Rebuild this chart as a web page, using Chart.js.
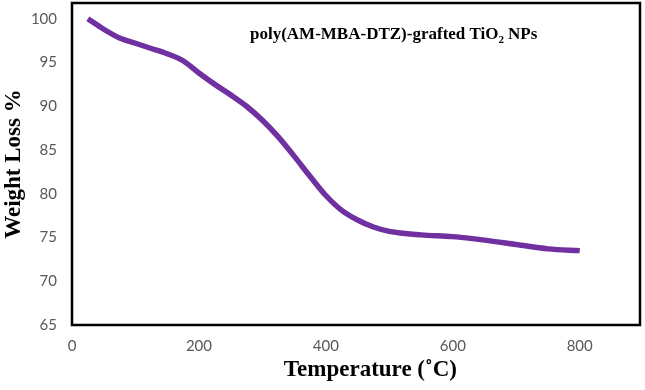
<!DOCTYPE html>
<html>
<head>
<meta charset="utf-8">
<script src="https://cdn.jsdelivr.net/npm/chart.js@4.4.0/dist/chart.umd.min.js"></script>
<style>
  html, body { margin: 0; padding: 0; background: #fff; }
  #wrap { width: 645px; height: 390px; }
</style>
</head>
<body>
<div id="wrap"><canvas id="tga" width="645" height="390"></canvas></div>
<script>
// TGA curve
const temps = [25, 50, 75, 100, 125, 150, 175, 200, 225, 250, 275, 300, 325, 350, 375, 400, 425, 450, 475, 500, 550, 600, 650, 700, 750, 800];
const weights = [100, 98.8, 97.8, 97.2, 96.6, 96.0, 95.2, 93.8, 92.5, 91.3, 90.0, 88.4, 86.5, 84.3, 82.0, 79.8, 78.1, 77.0, 76.2, 75.7, 75.3, 75.1, 74.7, 74.2, 73.7, 73.5];
const xTicks = [0, 200, 400, 600, 800];
const yTicks = [65, 70, 75, 80, 85, 90, 95, 100];

const tickFont = { family: 'Lato, "Open Sans", sans-serif', size: 15 };
const titleFont = { family: '"Liberation Serif", "Times New Roman", serif', size: 23, weight: 'bold' };

/**
 * Black frame around the plot area plus the sample label
 */
const framePlugin = {
  id: 'frame',
  afterDraw(chart) {
    const { ctx, chartArea: a } = chart;
    ctx.save();
    ctx.strokeStyle = '#000';
    ctx.lineWidth = 2.5;
    ctx.strokeRect(a.left, a.top, a.right - a.left, a.bottom - a.top);

    // label with subscript 2
    ctx.fillStyle = '#000';
    ctx.textBaseline = 'alphabetic';
    const big = 'bold 17px "Liberation Serif", "Times New Roman", serif';
    const small = 'bold 11px "Liberation Serif", "Times New Roman", serif';
    let x = 250, y = 39;
    const p1 = 'poly(AM-MBA-DTZ)-grafted TiO';
    ctx.font = big;
    ctx.fillText(p1, x, y);
    x += ctx.measureText(p1).width;
    ctx.font = small;
    ctx.fillText('2', x, y + 4);
    x += ctx.measureText('2').width + 4;
    ctx.font = big;
    ctx.fillText('NPs', x, y);
    ctx.restore();
  }
};

new Chart(document.getElementById('tga').getContext('2d'), {
  type: 'line',
  data: {
    labels: temps,
    datasets: [{
      data: temps.map((t, i) => ({ x: t, y: weights[i] })),
      borderColor: '#7030A0',
      borderWidth: 5.5,
      pointRadius: 0,
      cubicInterpolationMode: 'monotone',
      fill: false
    }]
  },
  options: {
    responsive: false,
    animation: false,
    layout: { padding: { top: 3, right: 5, left: 0, bottom: 0 } },
    plugins: { legend: { display: false }, tooltip: { enabled: false } },
    scales: {
      x: {
        type: 'linear',
        min: 0,
        max: 895,
        grid: { display: false, drawTicks: false },
        border: { display: false },
        afterBuildTicks: s => { s.ticks = xTicks.map(v => ({ value: v })); },
        afterFit: s => { s.height = 65; s.paddingLeft = 0; s.paddingRight = 0; },
        ticks: { color: '#595959', font: tickFont, padding: 12, maxRotation: 0 },
        title: { display: true, text: '     Temperature (˚C)', color: '#000', font: titleFont, padding: { top: 0, bottom: 6 } }
      },
      y: {
        min: 65,
        max: 101.8,
        grid: { display: false, drawTicks: false },
        border: { display: false },
        afterBuildTicks: s => { s.ticks = yTicks.map(v => ({ value: v })); },
        afterFit: s => { s.width = 72; s.paddingTop = 0; s.paddingBottom = 0; },
        ticks: { color: '#595959', font: tickFont, padding: 15 },
        title: { display: true, text: 'Weight Loss %', color: '#000', font: titleFont, padding: { top: 0, bottom: 0 } }
      }
    }
  },
  plugins: [framePlugin]
});
</script>
</body>
</html>
